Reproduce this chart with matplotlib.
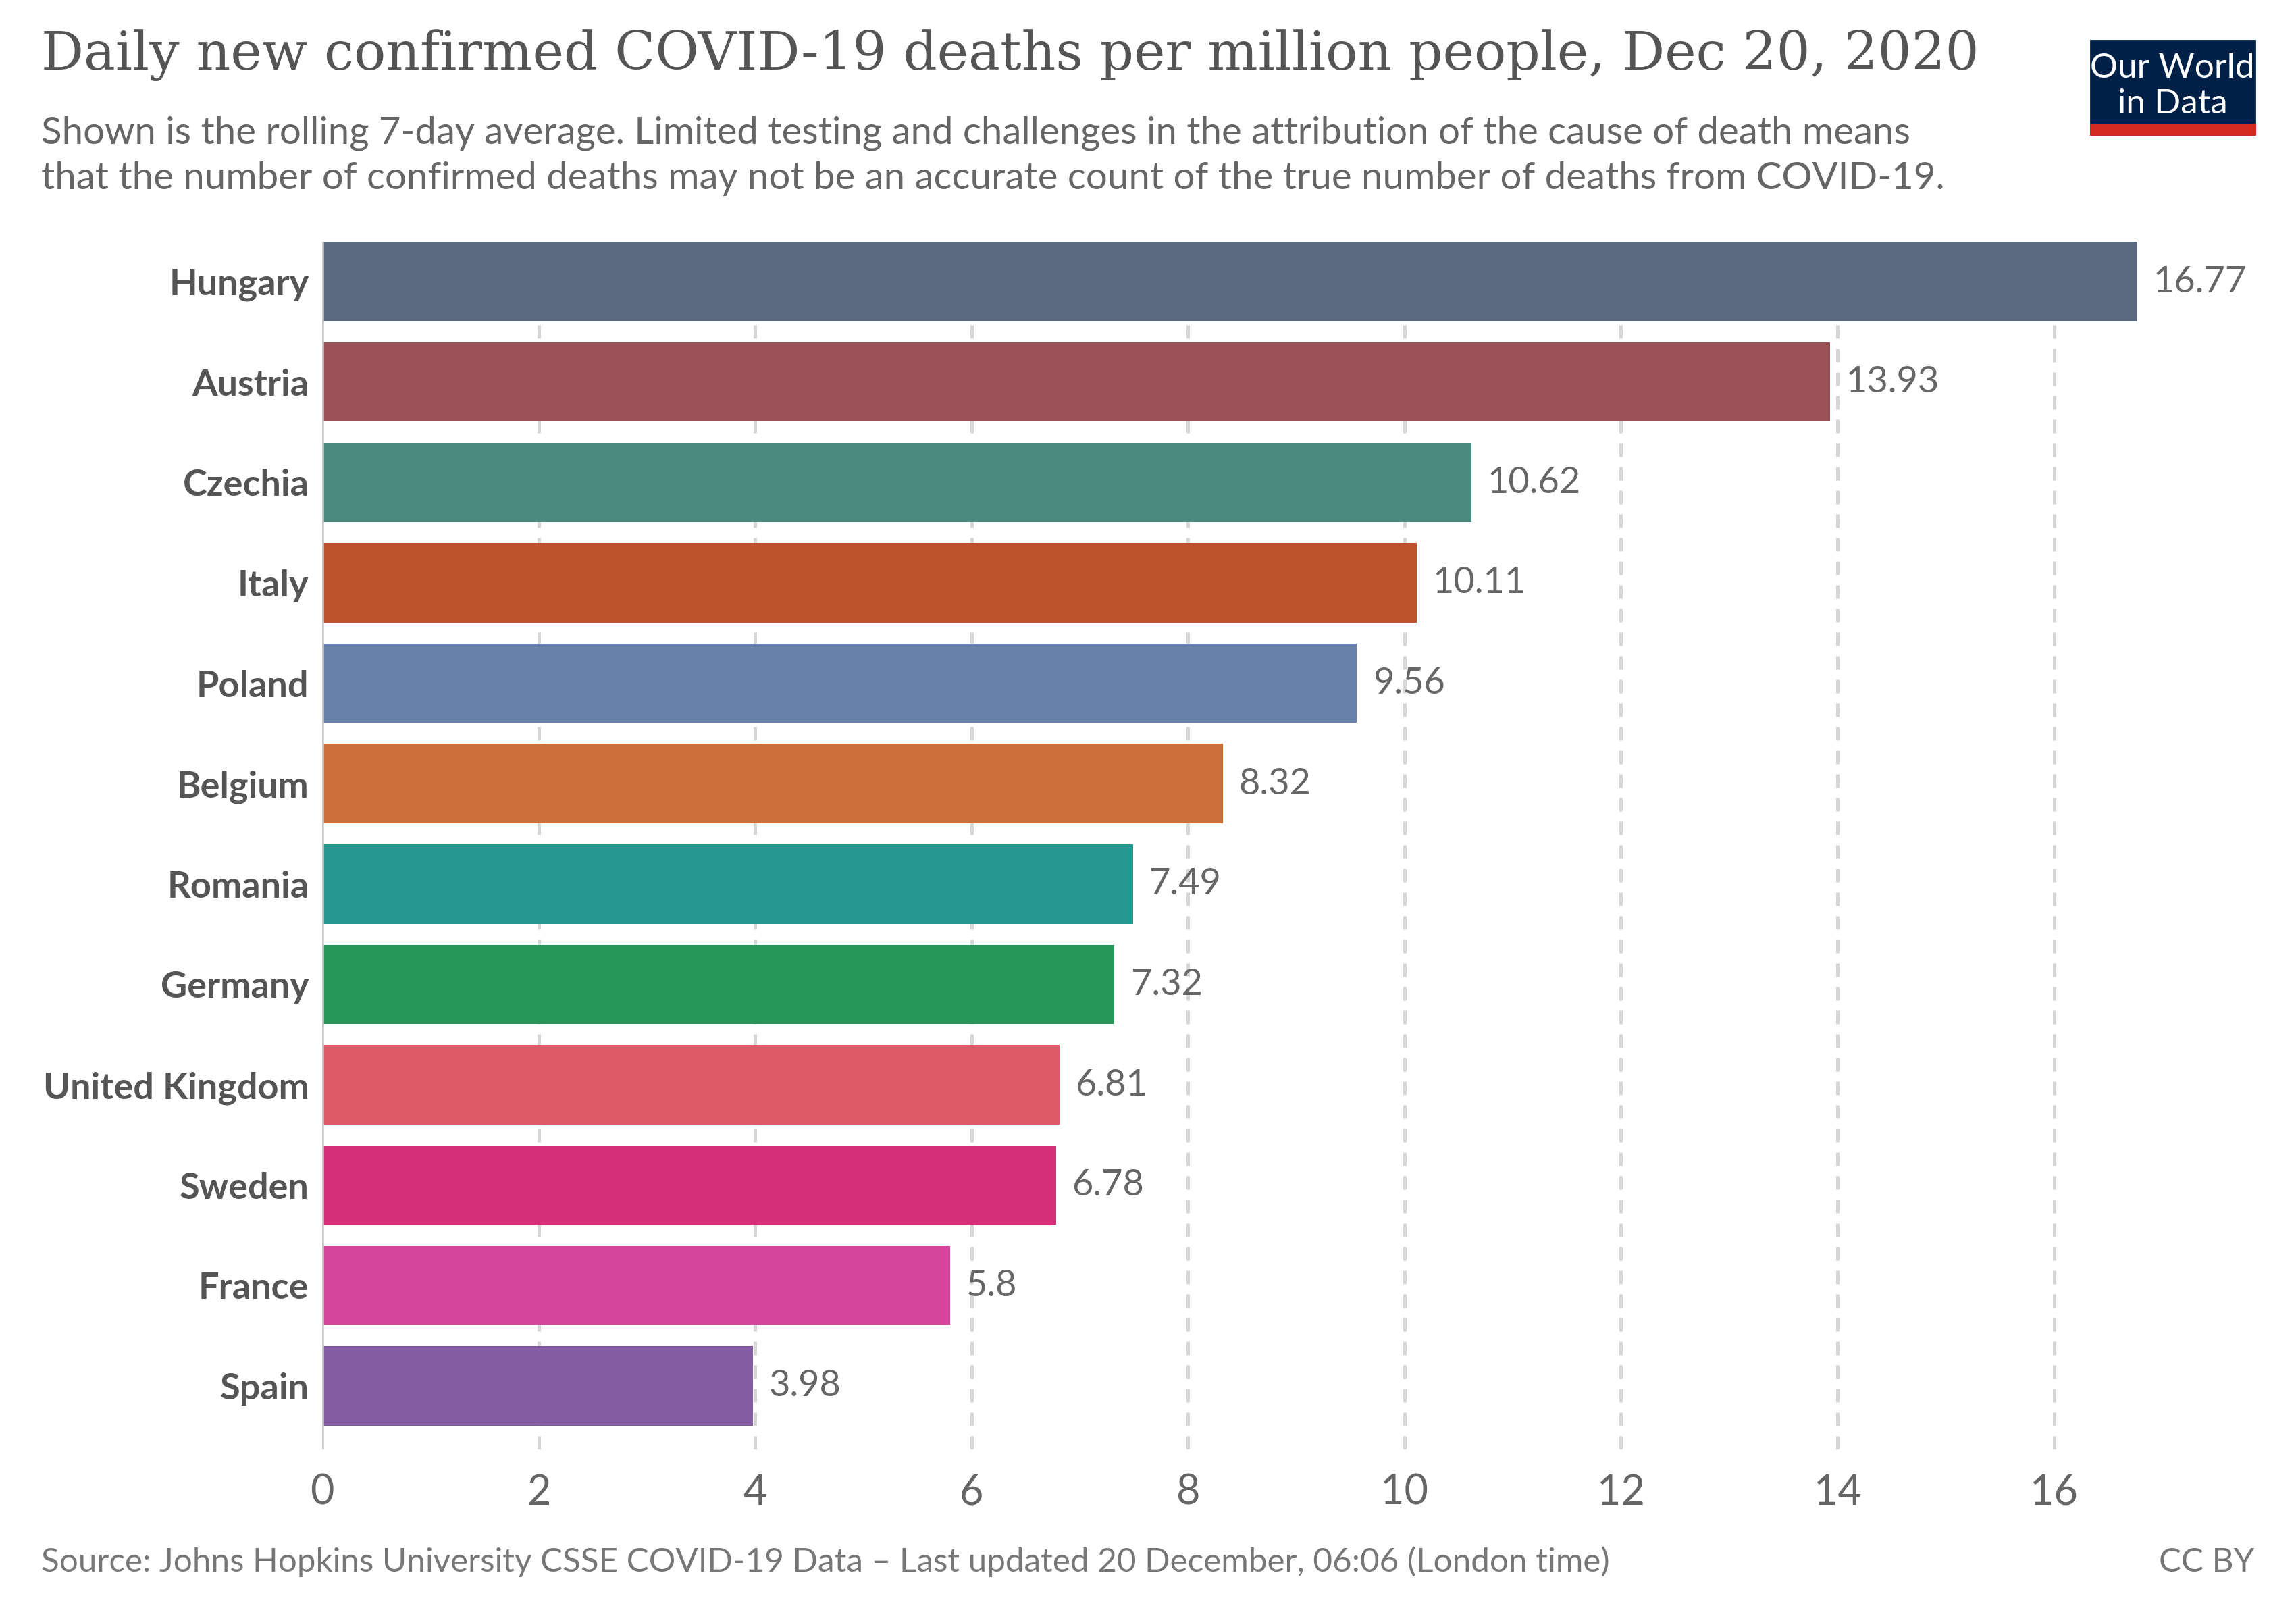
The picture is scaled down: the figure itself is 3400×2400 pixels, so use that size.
import numpy as np
import matplotlib.pyplot as plt
from matplotlib.patches import Rectangle

countries = ['Hungary', 'Austria', 'Czechia', 'Italy', 'Poland', 'Belgium',
             'Romania', 'Germany', 'United Kingdom', 'Sweden', 'France', 'Spain']
deaths = [16.77, 13.93, 10.62, 10.11, 9.56, 8.32, 7.49, 7.32, 6.81, 6.78, 5.8, 3.98]
value_labels = ['16.77', '13.93', '10.62', '10.11', '9.56', '8.32',
                '7.49', '7.32', '6.81', '6.78', '5.8', '3.98']
colors = ['#5a697f', '#9a5158', '#4b8a7f', '#bd532e', '#6881aa', '#cc6f3a',
          '#26988f', '#289659', '#de5b6a', '#d7307b', '#d5459b', '#845ca2']
xticks = [0, 2, 4, 6, 8, 10, 12, 14, 16]

fig = plt.figure(figsize=(17, 12), dpi=200)
ax = fig.add_axes([0.1403, 0.106, 0.7906, 0.745])

y = np.arange(len(countries))
ax.barh(y, deaths, height=0.79, color=colors, zorder=2)

for yi, v, lab in zip(y, deaths, value_labels):
    ax.annotate(lab, (v, yi), xytext=(8.5, 0), textcoords='offset points',
                va='center', ha='left', fontsize=19.5, color='#666666',
                family='Lato', annotation_clip=False)

ax.set_xlim(0, 16.77)
ax.set_ylim(11.63, -0.4)
ax.set_yticks(y)
ax.set_yticklabels(countries, fontsize=19.5, fontweight='bold', color='#555555', family='Lato')
ax.set_xticks(xticks)
ax.set_xticklabels([str(t) for t in xticks], fontsize=22, color='#666666', family='Lato')
ax.tick_params(axis='both', length=0)
ax.tick_params(axis='y', pad=7)
ax.tick_params(axis='x', pad=13)

for t in xticks[1:]:
    ax.axvline(t, color='#d6d6d6', lw=1.8, ls=(0, (4, 3)), zorder=1)
ax.axvline(0, color='#cccccc', lw=2, zorder=3)
for s in ax.spines.values():
    s.set_visible(False)

fig.text(0.018, 0.957, 'Daily new confirmed COVID-19 deaths per million people, Dec 20, 2020',
         fontsize=28.3, family='DejaVu Serif', color='#555555', va='baseline')
fig.text(0.018, 0.9115, 'Shown is the rolling 7-day average. Limited testing and challenges in the attribution of the cause of death means',
         fontsize=20.3, family='Lato', color='#666666', va='baseline')
fig.text(0.018, 0.8835, 'that the number of confirmed deaths may not be an accurate count of the true number of deaths from COVID-19.',
         fontsize=20.3, family='Lato', color='#666666', va='baseline')

fig.text(0.018, 0.0305, 'Source: Johns Hopkins University CSSE COVID-19 Data \u2013 Last updated 20 December, 06:06 (London time)',
         fontsize=17.8, family='Lato', color='#777777', va='baseline')
fig.text(0.982, 0.0305, 'CC BY', fontsize=17.8, family='Lato', color='#777777',
         va='baseline', ha='right')

# logo
fig.patches.append(Rectangle((3096 / 3400, 1 - 199 / 2400), 243 / 3400, 139 / 2400,
                             transform=fig.transFigure, color='#002147', zorder=5))
fig.patches.append(Rectangle((3096 / 3400, 1 - 199 / 2400), 243 / 3400, 15 / 2400,
                             transform=fig.transFigure, color='#d42b21', zorder=6))
fig.text(3217 / 3400, 1 - 115 / 2400, 'Our World', fontsize=18.5, family='Lato',
         color='white', ha='center', va='baseline', zorder=7)
fig.text(3217 / 3400, 1 - 168 / 2400, 'in Data', fontsize=18.5, family='Lato',
         color='white', ha='center', va='baseline', zorder=7)

fig.savefig('out.png', dpi=200, facecolor='white')
